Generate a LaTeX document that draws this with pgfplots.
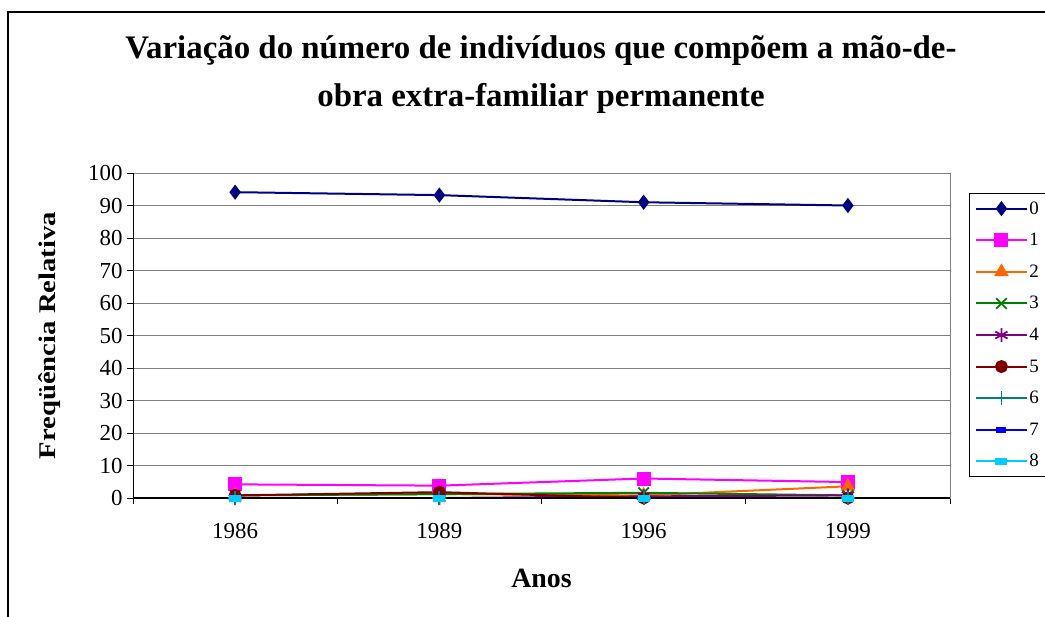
\documentclass[border=0pt]{standalone}
\usepackage{fontspec}
\setmainfont{Liberation Serif}
\usepackage{pgfplots}
\pgfplotsset{compat=1.18}
\definecolor{c0}{HTML}{000080}
\definecolor{c1}{HTML}{FF00FF}
\definecolor{c2}{HTML}{FF6600}
\definecolor{c3}{HTML}{008000}
\definecolor{c4}{HTML}{800080}
\definecolor{c5}{HTML}{800000}
\definecolor{c6}{HTML}{008080}
\definecolor{c7}{HTML}{0000FF}
\definecolor{c8}{HTML}{00CCFF}
\begin{document}
\begin{tikzpicture}
\path[use as bounding box] (0bp,0bp) rectangle (1045bp,-617bp);
\draw[line width=1.2bp] (8bp,-640bp) -- (8bp,-12bp) -- (1070bp,-12bp);
\node[font=\bfseries\fontsize{33}{38}\selectfont] at (541bp,-51bp) {Variação do número de indivíduos que compõem a mão-de-};
\node[font=\bfseries\fontsize{33}{38}\selectfont] at (541bp,-98bp) {obra extra-familiar permanente};
\begin{axis}[
  at={(133bp,-498bp)}, anchor=south west,
  width=817bp, height=325bp, scale only axis,
  xmin=-0.5, xmax=3.5, ymin=0, ymax=100,
  xtick={0,1,2,3}, xticklabels={1986,1989,1996,1999},
  minor xtick={-0.5,0.5,1.5,2.5,3.5},
  ytick={0,10,...,100},
  tick align=outside, tick pos=left,
  major tick length=6bp, minor tick length=6bp,
  major x tick style={draw=none},
  tick style={black, line width=0.8bp},
  ymajorgrids, major grid style={gray, line width=0.8bp},
  axis line style={gray, line width=0.8bp},
  ticklabel style={font=\fontsize{23}{25}\selectfont},
  /pgf/number format/assume math mode=true,
  xticklabel style={yshift=-16bp},
  yticklabel style={xshift=-1bp},
  xlabel={Anos},
  xlabel style={font=\bfseries\fontsize{28}{30}\selectfont, at={(axis description cs:0.5,-0.246)}, anchor=center},
  ylabel={\scalebox{1.2}[1]{Freqüência Relativa}},
  ylabel style={font=\bfseries\fontsize{24}{26}\selectfont, at={(axis description cs:-0.1016,0.5)}, anchor=center},
  legend style={at={(1.0233,0.938)}, anchor=north west, draw=black, line width=0.8bp,
    font=\fontsize{19}{21}\selectfont, row sep=15.6bp, inner xsep=6bp, inner ysep=7bp,
    nodes={inner sep=1bp}},
  legend cell align=left,
  legend image code/.code={\draw[mark repeat=2,mark phase=2] plot coordinates {(0bp,0bp) (25bp,0bp) (51bp,0bp)};},
  every axis plot/.append style={line width=2bp, mark options={solid}},
]
\addplot[c0, mark=diamond*, mark size=6bp] coordinates {(0,94.1) (1,93.2) (2,91.0) (3,90.0)};
\addlegendentry{0}
\addplot[c1, mark=square*, mark size=6bp] coordinates {(0,4.2) (1,3.8) (2,6.0) (3,4.9)};
\addlegendentry{1}
\addplot[c2, mark=triangle*, mark size=6.5bp] coordinates {(0,0.8) (1,1.2) (2,0.8) (3,3.6)};
\addlegendentry{2}
\addplot[c3, mark=x, mark size=7.5bp, mark options={line width=1.8bp}] coordinates {(0,0.8) (1,1.2) (2,1.6) (3,0.8)};
\addlegendentry{3}
\addplot[c4, mark=asterisk, mark size=7bp, mark options={line width=1.8bp}] coordinates {(0,0) (1,0) (2,0.5) (3,0.8)};
\addlegendentry{4}
\addplot[c5, mark=*, mark size=5.5bp] coordinates {(0,0.8) (1,1.8) (2,0) (3,0)};
\addlegendentry{5}
\addplot[c6, mark=+, mark size=7bp, mark options={line width=1.8bp}] coordinates {(0,0) (1,0) (2,0) (3,0)};
\addlegendentry{6}
\addplot[c7, mark=square*, mark size=4bp, mark options={yscale=0.5}] coordinates {(0,0) (1,0) (2,0) (3,0)};
\addlegendentry{7}
\addplot[c8, mark=square*, mark size=5bp, mark options={yscale=0.5}] coordinates {(0,0) (1,0) (2,0) (3,0)};
\addlegendentry{8}
\draw[black, line width=1.2bp] (axis cs:-0.5,100) -- (axis cs:-0.5,0) -- (axis cs:3.5,0);
\end{axis}
\end{tikzpicture}
\end{document}
